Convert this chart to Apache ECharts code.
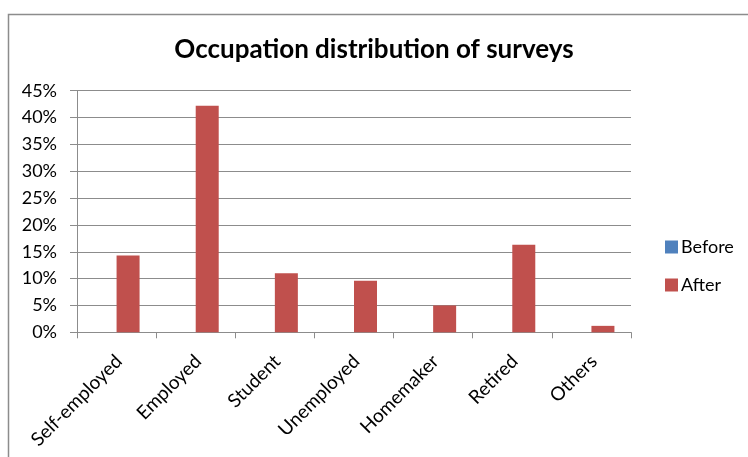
<!DOCTYPE html>
<html>
<head>
<meta charset="utf-8">
<title>Occupation distribution of surveys</title>
<script src="https://cdn.jsdelivr.net/npm/echarts@6/dist/echarts.min.js"></script>
<style>
    html, body {
        margin: 0;
        padding: 0;
        background: #fff;
    }
    #chart {
        width: 748px;
        height: 457px;
    }
</style>
</head>
<body>
<div id="chart"></div>
<script>
// values (percent)
let categories = ['Self-employed', 'Employed', 'Student', 'Unemployed', 'Homemaker', 'Retired', 'Others']
let beforeValues = [0, 0, 0, 0, 0, 0, 0]
let afterValues = [14.3, 42.2, 11.0, 9.6, 5.0, 16.3, 1.2]
let yTicks = [0, 5, 10, 15, 20, 25, 30, 35, 40, 45]

let font = 'Lato, "Open Sans", sans-serif'
let dom = echarts.init(document.getElementById('chart'))
let option = {
    animation: false,
    textStyle: {
        fontFamily: font
    },
    title: {
        text: 'Occupation distribution of surveys',
        left: 'center',
        top: 37,
        padding: [0, 0, 0, 12],
        textStyle: {
            color: '#000',
            fontSize: 26,
            fontWeight: 'bold',
            fontFamily: font
        }
    },
    // chart frame, only left and top edges are visible in the picture
    graphic: [{
        type: 'rect',
        shape: {x: 8.5, y: 14.5, width: 800, height: 500},
        style: {fill: 'none', stroke: '#8c8c8c', lineWidth: 1.5},
        silent: true
    }],
    legend: {
        orient: 'vertical',
        left: 660,
        top: 233,
        itemWidth: 13,
        itemHeight: 13,
        itemGap: 20,
        icon: 'rect',
        data: ['Before', 'After'],
        textStyle: {
            color: '#000',
            fontSize: 18,
            lineHeight: 18,
            padding: [0, 0, 0, -2],
            fontFamily: font
        }
    },
    grid: {
        left: 77,
        right: 117,
        top: 90.7,
        bottom: 124.7,
        containLabel: false
    },
    xAxis: {
        type: 'category',
        data: categories,
        axisLine: {lineStyle: {color: '#8c8c8c', width: 1}},
        axisTick: {show: true, length: 6, alignWithLabel: false, lineStyle: {color: '#8c8c8c'}},
        axisLabel: {
            interval: 0,
            rotate: 45,
            margin: 15,
            align: 'right',
            verticalAlign: 'top',
            padding: [0, 6, 0, 0],
            color: '#000',
            fontSize: 19,
            fontFamily: font
        }
    },
    yAxis: {
        type: 'value',
        min: yTicks[0],
        max: yTicks[yTicks.length - 1],
        interval: 5,
        axisLine: {show: true, lineStyle: {color: '#8c8c8c', width: 1}},
        axisTick: {show: true, length: 7, lineStyle: {color: '#8c8c8c'}},
        splitLine: {lineStyle: {color: '#8c8c8c', width: 1}},
        axisLabel: {
            margin: 20,
            color: '#000',
            fontSize: 18,
            fontFamily: font,
            formatter: function (v) {
                return v + '%'
            }
        }
    },
    series: [
        {
            name: 'Before',
            type: 'bar',
            data: beforeValues,
            barWidth: 23,
            barGap: '0%',
            itemStyle: {color: '#4f81bd'}
        },
        {
            name: 'After',
            type: 'bar',
            data: afterValues,
            barWidth: 23,
            barGap: '0%',
            itemStyle: {color: '#c0504d'}
        }
    ]
}
dom.setOption(option)
</script>
</body>
</html>
